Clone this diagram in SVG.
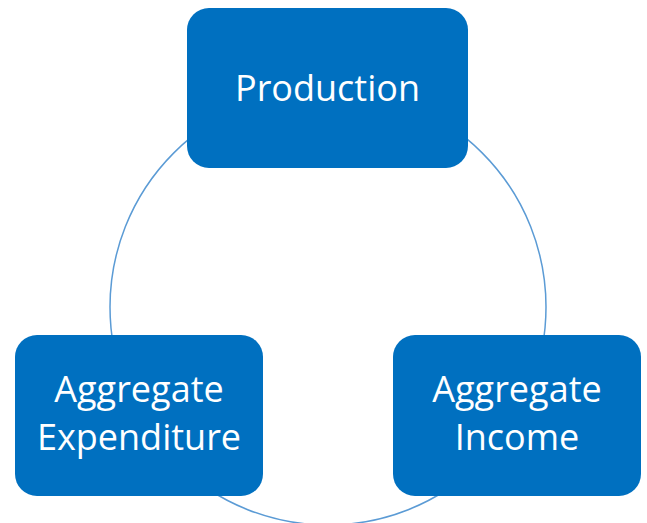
<svg xmlns="http://www.w3.org/2000/svg" width="647" height="523" viewBox="0 0 647 523">
<style>
.box{fill:#0070C0;}
.lbl{fill:#ffffff;font-family:"Open Sans","Noto Sans",sans-serif;font-size:36px;text-anchor:middle;}
.conn{fill:none;stroke:#5B9BD5;stroke-width:1.5;}
</style>
<rect width="647" height="523" fill="#ffffff"/>
<g id="connectors">
<circle class="conn" cx="328" cy="307" r="218"/>
</g>
<g id="production">
<rect class="box" x="187" y="8" width="281" height="160" rx="22"/>
<text class="lbl" x="327.5" y="101">Production</text>
</g>
<g id="aggregate-expenditure">
<rect class="box" x="15" y="335" width="248" height="161" rx="22"/>
<text class="lbl" x="139" y="402">Aggregate</text>
<text class="lbl" x="139" y="450">Expenditure</text>
</g>
<g id="aggregate-income">
<rect class="box" x="393" y="335" width="248" height="161" rx="22"/>
<text class="lbl" x="517" y="402">Aggregate</text>
<text class="lbl" x="517" y="450">Income</text>
</g>
</svg>
